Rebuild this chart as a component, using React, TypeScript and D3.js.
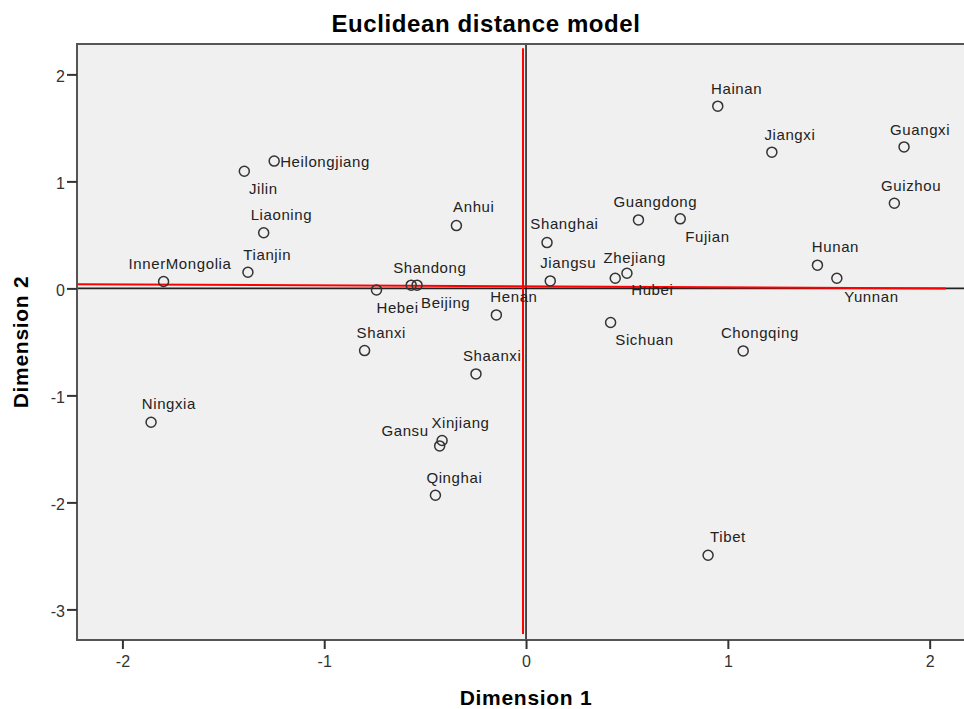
import * as d3 from "d3";
import { useEffect, useRef } from "react";

// province names and their coordinates in the two dimensions
const provinces = [
    "Heilongjiang", "Jilin", "Liaoning", "Tianjin", "InnerMongolia", "Anhui",
    "Hebei", "Shandong", "Beijing", "Shanxi", "Henan", "Hainan", "Jiangxi",
    "Guangxi", "Guizhou", "Guangdong", "Fujian", "Shanghai", "Jiangsu",
    "Zhejiang", "Hubei", "Hunan", "Yunnan", "Sichuan", "Chongqing", "Shaanxi",
    "Ningxia", "Xinjiang", "Gansu", "Qinghai", "Tibet",
];
const dim1 = [
    -1.248, -1.396, -1.300, -1.378, -1.796, -0.345,
    -0.741, -0.569, -0.540, -0.800, -0.147, 0.950, 1.218,
    1.873, 1.825, 0.557, 0.764, 0.104, 0.120,
    0.442, 0.500, 1.444, 1.540, 0.419, 1.076, -0.248,
    -1.858, -0.416, -0.428, -0.449, 0.902,
];
const dim2 = [
    1.190, 1.095, 0.520, 0.151, 0.064, 0.587,
    -0.014, 0.030, 0.030, -0.581, -0.248, 1.703, 1.273,
    1.322, 0.796, 0.640, 0.650, 0.428, 0.070,
    0.095, 0.142, 0.217, 0.095, -0.319, -0.584, -0.799,
    -1.251, -1.422, -1.472, -1.933, -2.494,
];

// axis ranges and ticks
const xDomain = [-2.225, 2.18];
const yDomain = [-3.286, 2.284];
const xTicks = [-2, -1, 0, 1, 2];
const yTicks = [2, 1, 0, -1, -2, -3];

// red reference lines (data coordinates)
const refX1 = [-2.225, -0.015];
const refY1 = [0.039, 2.245];
const refX2 = [2.08, -0.015];
const refY2 = [0.0, -3.229];

// label placement: [dx, dy, anchor]
const labelPos: Record<string, [number, number, string]> = {
    Heilongjiang: [6, 5.5, "start"], Jilin: [4.6, 23, "start"], Liaoning: [-13, -12.7, "start"],
    Tianjin: [-4.6, -12.3, "start"], InnerMongolia: [-35, -12.4, "start"], Anhui: [-3.3, -13.7, "start"],
    Hebei: [0, 22.7, "start"], Shandong: [-18, -12, "start"], Beijing: [4, 23, "start"],
    Shanxi: [-8, -12.4, "start"], Henan: [-6, -13.3, "start"], Hainan: [-6.7, -12.3, "start"],
    Jiangxi: [-7.4, -12.3, "start"], Guangxi: [-14, -12, "start"], Guizhou: [-13.3, -12.3, "start"],
    Guangdong: [-25, -12.7, "start"], Fujian: [5, 23.3, "start"], Shanghai: [-16.7, -13.4, "start"],
    Jiangsu: [-10, -13.3, "start"], Zhejiang: [-11.7, -15, "start"], Hubei: [4.3, 21.7, "start"],
    Hunan: [-5.6, -13, "start"], Yunnan: [7.3, 23.4, "start"], Sichuan: [4.7, 22.3, "start"],
    Chongqing: [-22.3, -12.7, "start"], Shaanxi: [-13, -13.3, "start"], Ningxia: [-9.3, -13, "start"],
    Xinjiang: [-10.7, -12.4, "start"], Gansu: [-11, -10, "end"], Qinghai: [-9, -12.6, "start"],
    Tibet: [2, -13.6, "start"],
};

const FONT = "Arial, 'Liberation Sans', sans-serif";

export default function App() {
    const ref = useRef<SVGSVGElement>(null);
    const width = 964, height = 709;

    useEffect(() => {
        const margin = { top: 44, left: 77 };
        const plotW = 889, plotH = 596;

        const root = d3.select(ref.current);
        root.selectAll("*").remove();

        const x = d3.scaleLinear().domain(xDomain).range([margin.left, margin.left + plotW]);
        const y = d3.scaleLinear().domain(yDomain).range([margin.top + plotH, margin.top]);

        // plot background
        root.append("rect")
            .attr("x", margin.left).attr("y", margin.top)
            .attr("width", plotW).attr("height", plotH)
            .attr("fill", "#f0f0f0");

        // zero lines
        root.append("line")
            .attr("x1", x(xDomain[0])).attr("x2", x(xDomain[1]))
            .attr("y1", y(0)).attr("y2", y(0))
            .attr("stroke", "#222").attr("stroke-width", 1.6);
        root.append("line")
            .attr("x1", x(0)).attr("x2", x(0))
            .attr("y1", y(yDomain[0])).attr("y2", y(yDomain[1]))
            .attr("stroke", "#222").attr("stroke-width", 1.6);

        // red lines
        root.selectAll(".ref")
            .data(d3.range(refX1.length))
            .enter()
            .append("line")
            .attr("class", "ref")
            .attr("x1", i => x(refX1[i])).attr("y1", i => y(refY1[i]))
            .attr("x2", i => x(refX2[i])).attr("y2", i => y(refY2[i]))
            .attr("stroke", "#ff0000").attr("stroke-width", 2);

        // frame
        root.append("rect")
            .attr("x", margin.left).attr("y", margin.top)
            .attr("width", plotW).attr("height", plotH)
            .attr("fill", "none")
            .attr("stroke", "#555").attr("stroke-width", 2);

        // axes
        const yAxis = root.append("g")
            .attr("transform", `translate(${margin.left},0)`)
            .call(d3.axisLeft(y).tickValues(yTicks).tickSize(10).tickPadding(2).tickFormat(d3.format("d")));
        const xAxis = root.append("g")
            .attr("transform", `translate(0,${margin.top + plotH})`)
            .call(d3.axisBottom(x).tickValues(xTicks).tickSize(9).tickPadding(7).tickFormat(d3.format("d")));
        [xAxis, yAxis].forEach(g => {
            g.select(".domain").remove();
            g.selectAll("line").attr("stroke", "#333").attr("stroke-width", 2);
            g.selectAll("text")
                .attr("fill", "#333")
                .style("font-family", FONT)
                .style("font-size", "16px");
        });
        yAxis.selectAll("text").attr("dy", "0.45em");
        // the minus sign in the source is a plain hyphen
        root.selectAll(".tick text").text(function () {
            return (d3.select(this).text() as string).replace("\u2212", "-");
        });

        // points
        const data = provinces.map((name, i) => ({ name, d1: dim1[i], d2: dim2[i] }));
        root.selectAll(".pt")
            .data(data)
            .enter()
            .append("circle")
            .attr("class", "pt")
            .attr("cx", d => x(d.d1))
            .attr("cy", d => y(d.d2))
            .attr("r", 5)
            .attr("fill", "none")
            .attr("stroke", "#333")
            .attr("stroke-width", 1.5);

        // labels
        root.selectAll(".lbl")
            .data(data)
            .enter()
            .append("text")
            .attr("class", "lbl")
            .attr("x", d => x(d.d1) + labelPos[d.name][0])
            .attr("y", d => y(d.d2) + labelPos[d.name][1])
            .attr("text-anchor", d => labelPos[d.name][2])
            .attr("fill", "#222")
            .style("font-family", FONT)
            .style("font-size", "15px")
            .style("letter-spacing", "0.6px")
            .text(d => d.name);

        // titles
        root.append("text")
            .attr("x", 486).attr("y", 32)
            .attr("text-anchor", "middle")
            .style("font-family", FONT).style("font-size", "24px").style("font-weight", "bold")
            .style("letter-spacing", "0.6px")
            .text("Euclidean distance model");
        root.append("text")
            .attr("x", 526).attr("y", 705)
            .attr("text-anchor", "middle")
            .style("font-family", FONT).style("font-size", "21px").style("font-weight", "bold")
            .style("letter-spacing", "0.7px")
            .text("Dimension 1");
        root.append("text")
            .attr("transform", `translate(28,${margin.top + plotH / 2}) rotate(-90)`)
            .attr("text-anchor", "middle")
            .style("font-family", FONT).style("font-size", "21px").style("font-weight", "bold")
            .style("letter-spacing", "0.7px")
            .text("Dimension 2");
    }, []);

    return (
        <svg ref={ref} width={width} height={height}
            style={{ position: "absolute", left: 0, top: 0, display: "block", background: "#fff" }} />
    );
}
